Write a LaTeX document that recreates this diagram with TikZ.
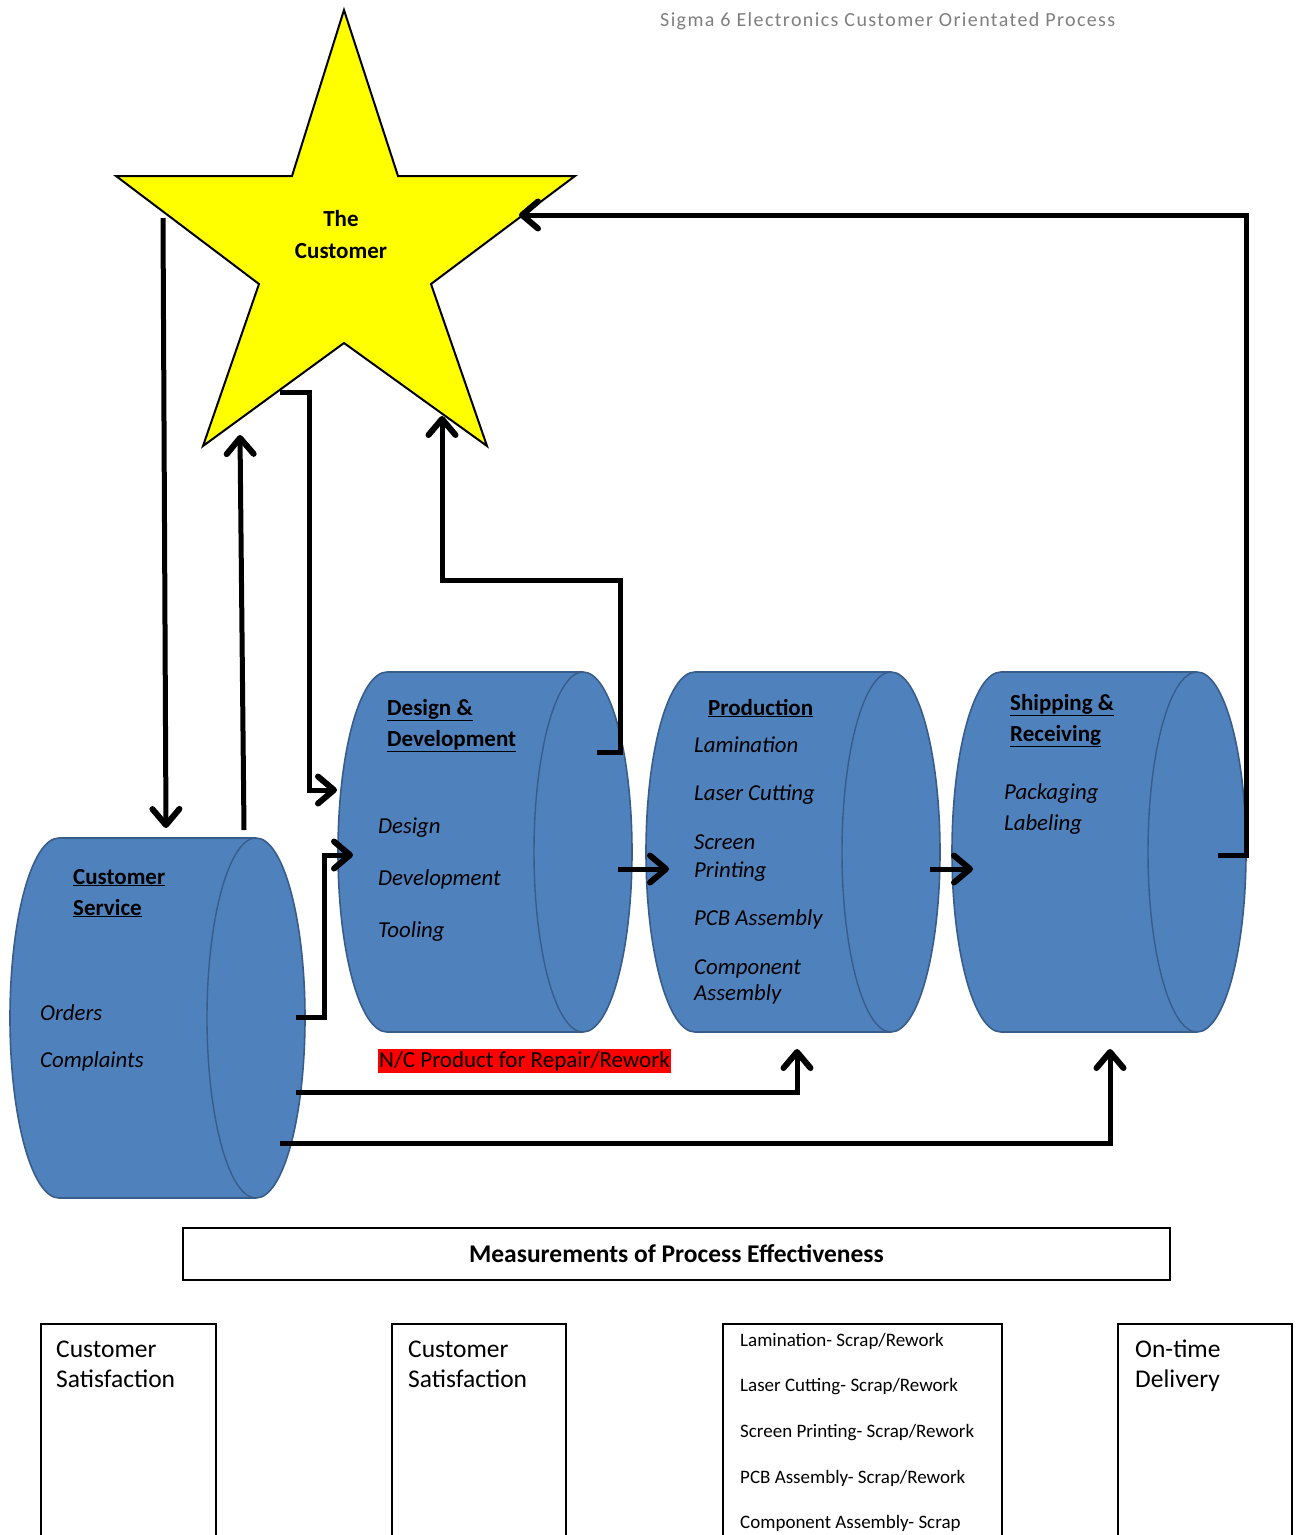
\documentclass[tikz,border=0pt]{standalone}
\usepackage{fontspec}
\setmainfont{Carlito}
\usetikzlibrary{arrows.meta}
\definecolor{cylblue}{HTML}{4F81BD}
\definecolor{cyledge}{HTML}{385D8A}
\definecolor{titlegray}{HTML}{7F7F7F}
\definecolor{starfill}{HTML}{FFFF00}
\definecolor{ncred}{HTML}{FF0000}
\newcommand\mycyl[5]{%
  \pgfmathsetmacro\cxl{#2+49}%
  \pgfmathsetmacro\cxr{#3-49}%
  \pgfmathsetmacro\cym{(#4+#5)/2}%
  \pgfmathsetmacro\cry{(#5-#4)/2}%
  \draw[cylbody] (\cxl,#4) -- (\cxr,#4)
    arc[start angle=-90,end angle=90,x radius=49,y radius=\cry]
    -- (\cxl,#5)
    arc[start angle=90,end angle=270,x radius=49,y radius=\cry] -- cycle;
  \draw[cylrim] (\cxr,#4) arc[start angle=270,end angle=90,x radius=49,y radius=\cry];
  \coordinate (#1) at ({(#2+#3)/2},\cym);
}
\begin{document}
\begin{tikzpicture}[x=1pt,y=-1pt,
  cylbody/.style={fill=cylblue,draw=cyledge,line width=1.6pt},
  cylrim/.style={draw=cyledge,line width=1.4pt},
  conn/.style={line width=5pt,-{Straight Barb[length=16pt,width=27pt,line width=6pt,round]},line join=miter},
  head/.style={font=\fontsize{23}{27}\selectfont\bfseries,anchor=base west,inner sep=0pt},
  item/.style={font=\fontsize{22.8}{27}\selectfont\itshape,anchor=base west,inner sep=0pt},
  meas/.style={font=\fontsize{25.5}{29}\selectfont,anchor=base west,inner sep=0pt},
  small/.style={font=\fontsize{19}{22}\selectfont,anchor=base west,inner sep=0pt},
  mbox/.style={draw=black,line width=1.4pt}
]
\useasboundingbox (0,0) rectangle (1296,1535);
\clip (0,0) rectangle (1296,1535);
\fill[white] (0,0) rectangle (1296,1535);

% title
\node[anchor=base west,inner sep=0pt,text=titlegray,font=\fontsize{20}{23}\selectfont\addfontfeatures{LetterSpace=7}] (title) at (660,26) {Sigma 6 Electronics Customer Orientated Process};

% star
\draw[fill=starfill,draw=black,line width=2pt,line join=miter]
  (344,10) -- (398,176) -- (575,176) -- (431,284) -- (487,446) -- (344,343)
  -- (203,446) -- (259,284) -- (116,176) -- (292,176) -- cycle;
\coordinate (star) at (344,250);
\node[font=\fontsize{23}{27}\selectfont\bfseries,anchor=base,inner sep=0pt] (the) at (341,226) {The};
\node[font=\fontsize{23}{27}\selectfont\bfseries,anchor=base,inner sep=0pt] (cust) at (341,258) {Customer};

% cylinders
\mycyl{cs}{10}{305}{838}{1198}
\mycyl{dd}{338}{632}{672}{1032}
\mycyl{pr}{646}{940}{672}{1032}
\mycyl{sr}{952}{1246}{672}{1032}

% cylinder texts
\node[head] (cs1) at (73,884) {\underline{Customer}};
\node[head] (cs2) at (73,915) {\underline{Service}};
\node[item] (cs3) at (40,1020) {Orders};
\node[item] (cs4) at (40,1067) {Complaints};

\node[head] (dd1) at (387,715) {\underline{Design \&}};
\node[head] (dd2) at (387,746) {\underline{Development}};
\node[item] (dd3) at (378,833) {Design};
\node[item] (dd4) at (378,885) {Development};
\node[item] (dd5) at (378,937) {Tooling};

\node[head] (pr1) at (708,715) {\underline{Production}};
\node[item] (pr2) at (694,752) {Lamination};
\node[item] (pr3) at (694,800) {Laser Cutting};
\node[item] (pr4) at (694,849) {Screen};
\node[item] (pr5) at (694,877) {Printing};
\node[item] (pr6) at (694,925) {PCB Assembly};
\node[item] (pr7) at (694,974) {Component};
\node[item] (pr8) at (694,1000) {Assembly};

\node[head] (sr1) at (1010,710) {\underline{Shipping \&}};
\node[head] (sr2) at (1010,741) {\underline{Receiving}};
\node[item] (sr3) at (1004,799) {Packaging};
\node[item] (sr4) at (1004,830) {Labeling};

% red label
\node[fill=ncred,anchor=west,inner xsep=1pt,inner ysep=2pt,font=\fontsize{23}{26}\selectfont] (nc) at (378,1061) {N/C Product for Repair/Rework};

% connector coordinates
\coordinate (a1s) at (163,218);   \coordinate (a1e) at (166,828);
\coordinate (a2s) at (244,830);   \coordinate (a2e) at (240,435);
\coordinate (a3s) at (280,392);   \coordinate (a3a) at (309,392);
\coordinate (a3b) at (309,790);   \coordinate (a3e) at (337,790);
\coordinate (a4s) at (296,1017);  \coordinate (a4a) at (324,1017);
\coordinate (a4b) at (324,855);   \coordinate (a4e) at (353,855);
\coordinate (a5s) at (597,752);   \coordinate (a5a) at (620,752);
\coordinate (a5b) at (620,580);   \coordinate (a5c) at (442,580);
\coordinate (a5e) at (442,416);
\coordinate (a6s) at (618,869);   \coordinate (a6e) at (669,869);
\coordinate (a7s) at (930,869);   \coordinate (a7e) at (973,869);
\coordinate (a8s) at (1218,855);  \coordinate (a8a) at (1246,855);
\coordinate (a8b) at (1246,215);  \coordinate (a8e) at (519,215);
\coordinate (a9s) at (296,1092);  \coordinate (a9a) at (797,1092);
\coordinate (a9e) at (797,1049);
\coordinate (a10s) at (280,1143); \coordinate (a10a) at (1110,1143);
\coordinate (a10e) at (1110,1049);

\draw[conn] (a1s) -- (a1e);
\draw[conn] (a2s) -- (a2e);
\draw[conn] (a3s) -- (a3a) -- (a3b) -- (a3e);
\draw[conn] (a4s) -- (a4a) -- (a4b) -- (a4e);
\draw[conn] (a5s) -- (a5a) -- (a5b) -- (a5c) -- (a5e);
\draw[conn] (a6s) -- (a6e);
\draw[conn] (a7s) -- (a7e);
\draw[conn] (a8s) -- (a8a) -- (a8b) -- (a8e);
\draw[conn] (a9s) -- (a9a) -- (a9e);
\draw[conn] (a10s) -- (a10a) -- (a10e);

% measurements
\node[mbox,minimum width=987pt,minimum height=52pt,inner sep=0pt,font=\fontsize{25.5}{29}\selectfont\bfseries] (mpe) at (676.5,1254) {Measurements of Process Effectiveness};

\draw[mbox] (41,1560) |- (216,1324) -- (216,1560);
\draw[mbox] (392,1560) |- (566,1324) -- (566,1560);
\draw[mbox] (723,1560) |- (1002,1324) -- (1002,1560);
\draw[mbox] (1118,1560) |- (1292,1324) -- (1292,1560);
\coordinate (b1) at (128,1324); \coordinate (b2) at (479,1324);
\coordinate (b3) at (862,1324); \coordinate (b4) at (1205,1324);

\node[meas] (m1a) at (56,1357) {Customer};
\node[meas] (m1b) at (56,1387) {Satisfaction};
\node[meas] (m2a) at (408,1357) {Customer};
\node[meas] (m2b) at (408,1387) {Satisfaction};
\node[small] (m3a) at (740,1346) {Lamination- Scrap/Rework};
\node[small] (m3b) at (740,1391) {Laser Cutting- Scrap/Rework};
\node[small] (m3c) at (740,1437) {Screen Printing- Scrap/Rework};
\node[small] (m3d) at (740,1483) {PCB Assembly- Scrap/Rework};
\node[small] (m3e) at (740,1528) {Component Assembly- Scrap};
\node[meas] (m4a) at (1135,1357) {On-time};
\node[meas] (m4b) at (1135,1387) {Delivery};
\end{tikzpicture}
\end{document}
